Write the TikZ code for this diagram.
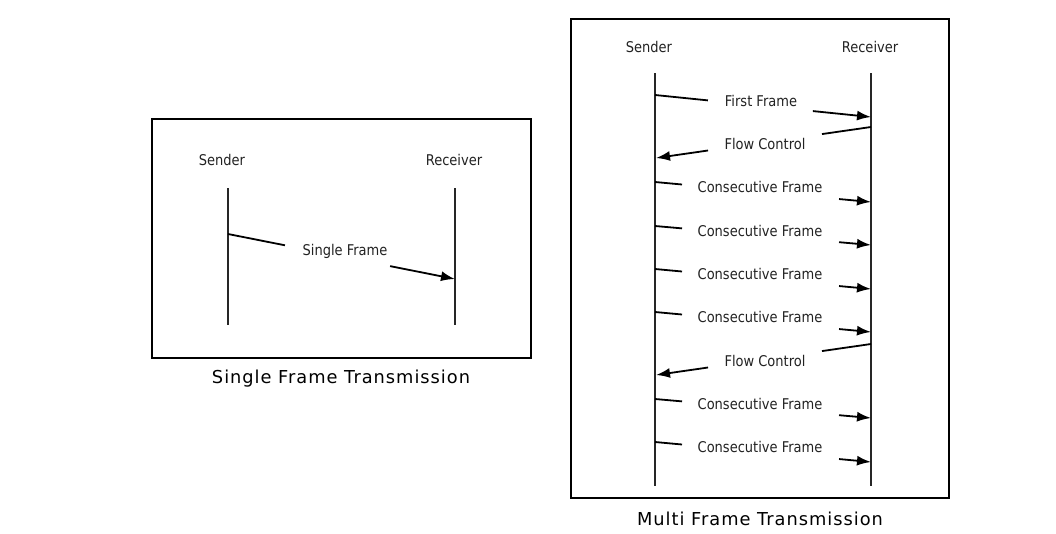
\documentclass[tikz,border=0pt]{standalone}
\usepackage{fontspec}
\setmainfont{DejaVu Sans}
\newfontfamily\labfont[FakeStretch=0.88]{DejaVu Sans}
\newfontfamily\capfont[LetterSpace=5.5]{DejaVu Sans}
\usetikzlibrary{arrows.meta,calc}
\definecolor{txt}{HTML}{222222}
\begin{document}
\begin{tikzpicture}[x=1pt,y=-1pt,
  frame/.style={draw=black,line width=2pt},
  lifeline/.style={draw=black!85,line width=1.7pt},
  actor/.style={text=txt,font=\labfont\fontsize{14.8}{17}\selectfont,inner sep=0pt},
  seg/.style={draw=black,line width=1.8pt},
  msg/.style={seg,-{Latex[length=14pt,width=10pt]}},
  msglabel/.style={text=txt,font=\labfont\fontsize{14.8}{17}\selectfont,inner sep=0pt},
  caption/.style={text=black,font=\capfont\fontsize{17.8}{20}\selectfont,inner sep=0pt}]
\useasboundingbox (0,0) rectangle (1056,533);

% ---------- Single frame ----------
\draw[frame] (152,119) rectangle (531,358);
\node[actor] (ls) at (222,160) {Sender};
\node[actor] (lr) at (454,160) {Receiver};
\coordinate (lsT) at (228,188); \coordinate (lsB) at (228,325);
\coordinate (lrT) at (455,188); \coordinate (lrB) at (455,325);
\draw[lifeline] (lsT) -- (lsB);
\draw[lifeline] (lrT) -- (lrB);
\coordinate (sfA) at (228,234); \coordinate (sfB) at (455,279);
\node[msglabel] (sf) at (345,251) {Single Frame};
\draw[seg] (sfA) -- ($(sfA)!0.251!(sfB)$);
\draw[msg] ($(sfA)!0.714!(sfB)$) -- (sfB);
\node[caption] (cap1) at (341,379) {Single Frame Transmission};

% ---------- Multi frame ----------
\draw[frame] (571,19) rectangle (949,498);
\node[actor] (ms) at (649,47) {Sender};
\node[actor] (mr) at (870,47) {Receiver};
\coordinate (msT) at (655,73); \coordinate (msB) at (655,486);
\coordinate (mrT) at (871,73); \coordinate (mrB) at (871,486);
\draw[lifeline] (msT) -- (msB);
\draw[lifeline] (mrT) -- (mrB);

% First frame
\coordinate (ffA) at (655,95); \coordinate (ffB) at (871,117);
\node[msglabel] (ff) at (761,101) {First Frame};
\draw[seg] (ffA) -- ($(ffA)!0.245!(ffB)$);
\draw[msg] ($(ffA)!0.731!(ffB)$) -- (ffB);

% Flow control 1
\coordinate (fc1A) at (871,127); \coordinate (fc1B) at (656,158);
\node[msglabel] (fc1) at (765,144) {Flow Control};
\draw[seg] (fc1A) -- ($(fc1A)!0.228!(fc1B)$);
\draw[msg] ($(fc1A)!0.758!(fc1B)$) -- (fc1B);

% Flow control 2
\coordinate (fc2A) at (871,344); \coordinate (fc2B) at (656,375);
\node[msglabel] (fc2) at (765,361) {Flow Control};
\draw[seg] (fc2A) -- ($(fc2A)!0.228!(fc2B)$);
\draw[msg] ($(fc2A)!0.758!(fc2B)$) -- (fc2B);

% Consecutive frames
\foreach \i/\ya/\yb/\yl in {1/182/202/187,2/226/245/231,3/269/289/274,4/312/332/317,5/399/418/404,6/442/462/447}{
  \coordinate (cf\i A) at (655,\ya);
  \coordinate (cf\i B) at (871,\yb);
  \node[msglabel] (cf\i) at (760,\yl) {Consecutive Frame};
  \draw[seg] (cf\i A) -- ($(cf\i A)!0.125!(cf\i B)$);
  \draw[msg] ($(cf\i A)!0.852!(cf\i B)$) -- (cf\i B);
}
\node[caption] (cap2) at (760,519) {Multi Frame Transmission};
\end{tikzpicture}
\end{document}
